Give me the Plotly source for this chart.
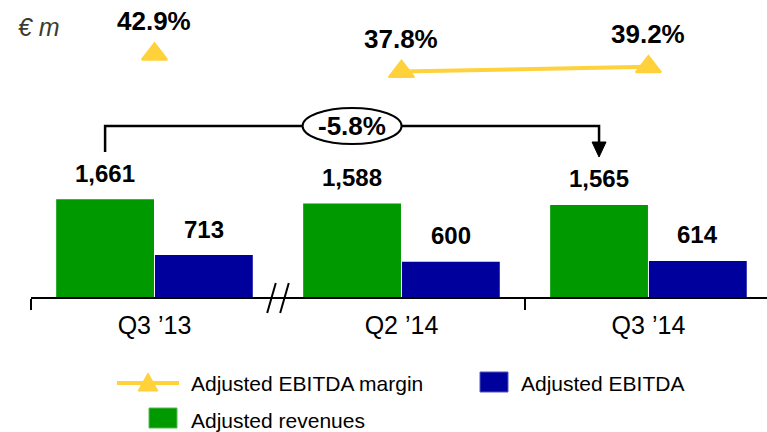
import plotly.graph_objects as go

# ---- data ----
categories = ["Q3 \u201913", "Q2 \u201914", "Q3 \u201914"]
adj_revenues = [1661, 1588, 1565]
adj_ebitda = [713, 600, 614]
ebitda_margin = [42.9, 37.8, 39.2]
change_label = "-5.8%"

GREEN = "#009900"
BLUE = "#00009C"
YELLOW = "#FFD23C"
FONT = "Liberation Sans, Arial, sans-serif"

W, H = 767, 432
L, R, T, B = 31, 0, 0, 135
PW, PH = W - L - R, H - T - B


def pxx(px):
    return (px - L) / PW


def pyy(py):
    return 1 - (py - T) / PH


xs = list(range(len(categories)))

fig = go.Figure()
fig.add_trace(go.Bar(x=xs, y=adj_revenues, name="Adjusted revenues",
                     marker=dict(color=GREEN, line=dict(width=0)), hoverinfo="y"))
fig.add_trace(go.Bar(x=xs, y=adj_ebitda, name="Adjusted EBITDA",
                     marker=dict(color=BLUE, line=dict(width=0)), hoverinfo="y"))
# margin line only after the axis break
fig.add_trace(go.Scatter(x=xs[1:], y=ebitda_margin[1:], yaxis="y2", mode="lines",
                         line=dict(color=YELLOW, width=4), hoverinfo="skip",
                         name="Adjusted EBITDA margin"))
fig.add_trace(go.Scatter(x=xs, y=ebitda_margin, yaxis="y2", mode="markers",
                         marker=dict(symbol="triangle-up", size=22, color=YELLOW,
                                     line=dict(color=YELLOW, width=2)),
                         name="Adjusted EBITDA margin", hoverinfo="y"))

ann = []
# bar value labels
for i, (r, e) in enumerate(zip(adj_revenues, adj_ebitda)):
    ann.append(dict(x=i - 0.2, y=r, xref="x", yref="y", text=f"<b>{r:,}</b>",
                    showarrow=False, yanchor="middle", yshift=26,
                    font=dict(size=24, color="black", family=FONT)))
    ann.append(dict(x=i + 0.2, y=e, xref="x", yref="y", text=f"<b>{e:,}</b>",
                    showarrow=False, yanchor="middle", yshift=26,
                    font=dict(size=24, color="black", family=FONT)))
# margin labels
for i, m in enumerate(ebitda_margin):
    ann.append(dict(x=i, y=m, xref="x", yref="y2", text=f"<b>{m:.1f}%</b>",
                    showarrow=False, yanchor="middle", yshift=33,
                    font=dict(size=26, color="black", family=FONT)))
# unit label
ann.append(dict(x=pxx(16), y=pyy(27), xref="paper", yref="paper", text="<i>\u20ac m</i>",
                showarrow=False, xanchor="left", yanchor="middle",
                font=dict(size=25, color="#3c3c2e", family=FONT)))

shapes = []
# bracket between Q3'13 and Q3'14 revenues
bx0, bx1 = 0 - 0.2, 2 - 0.2
by = pyy(126)
shapes.append(dict(type="path", xref="x", yref="paper",
                   path=f"M {bx0},{pyy(152)} L {bx0},{by} L {bx1},{by} L {bx1},{pyy(143)}",
                   line=dict(color="black", width=2.5)))
ahw = 7 / 247
shapes.append(dict(type="path", xref="x", yref="paper",
                   path=f"M {bx1-ahw},{pyy(142)} L {bx1+ahw},{pyy(142)} L {bx1},{pyy(157)} Z",
                   fillcolor="black", line=dict(color="black", width=1)))
cx = (bx0 + bx1) / 2
ehw = 49.5 / 247
shapes.append(dict(type="circle", xref="x", yref="paper",
                   x0=cx - ehw, x1=cx + ehw, y0=pyy(144), y1=pyy(108),
                   fillcolor="white", line=dict(color="black", width=2)))
ann.append(dict(x=cx, y=pyy(126), xref="x", yref="paper", text=f"<b>{change_label}</b>",
                showarrow=False, yanchor="middle",
                font=dict(size=26, color="black", family=FONT)))

# axis break marks
for off in (-6.5 / 247, 6.5 / 247):
    bx = 0.5 + off
    shapes.append(dict(type="line", xref="x", yref="paper",
                       x0=bx - 4.3 / 247, y0=pyy(313), x1=bx + 4.3 / 247, y1=pyy(283),
                       line=dict(color="black", width=2)))

# legend (manual)
shapes.append(dict(type="line", xref="paper", yref="paper",
                   x0=pxx(117), x1=pxx(179), y0=pyy(383), y1=pyy(383),
                   line=dict(color=YELLOW, width=4)))
shapes.append(dict(type="path", xref="paper", yref="paper",
                   path=f"M {pxx(138)},{pyy(391)} L {pxx(158)},{pyy(391)} L {pxx(148)},{pyy(373)} Z",
                   fillcolor=YELLOW, line=dict(color=YELLOW, width=1)))
shapes.append(dict(type="rect", xref="paper", yref="paper",
                   x0=pxx(480), x1=pxx(508), y0=pyy(392), y1=pyy(372),
                   fillcolor=BLUE, line=dict(color="#5555bb", width=1)))
shapes.append(dict(type="rect", xref="paper", yref="paper",
                   x0=pxx(149), x1=pxx(177), y0=pyy(428), y1=pyy(408),
                   fillcolor=GREEN, line=dict(color="#55bb55", width=1)))
for txt, px, py in [("Adjusted EBITDA margin", 189, 383),
                    ("Adjusted EBITDA", 519, 383),
                    ("Adjusted revenues", 189, 420)]:
    ann.append(dict(x=pxx(px), y=pyy(py), xref="paper", yref="paper", text=txt,
                    showarrow=False, xanchor="left", yanchor="middle",
                    font=dict(size=21, color="black", family=FONT)))

ymax = PH * 17.0
fig.update_layout(
    width=W, height=H,
    margin=dict(l=L, r=R, t=T, b=B, pad=0),
    paper_bgcolor="white", plot_bgcolor="white",
    barmode="group", bargap=0.2, bargroupgap=0.01,
    showlegend=False,
    font=dict(family=FONT, color="black"),
    xaxis=dict(range=[-0.5, 2.48], tickmode="array", tickvals=xs, ticktext=categories,
               ticks="", showline=True, linecolor="black", linewidth=2,
               showgrid=False, zeroline=False, ticklabelstandoff=5,
               tickfont=dict(size=25, color="black", family=FONT),
               minor=dict(tickmode="array", tickvals=[-0.5, 1.5], ticks="outside",
                          ticklen=11, tickwidth=1.5, tickcolor="black", showgrid=False)),
    yaxis=dict(range=[0, ymax], visible=False, showgrid=False, zeroline=False),
    yaxis2=dict(range=[-28.5, 58.84], overlaying="y", visible=False,
                showgrid=False, zeroline=False),
    annotations=ann,
    shapes=shapes,
)

fig.write_html(
    "out.html",
    config={"displayModeBar": False},
    post_script="document.body.style.margin='0';document.body.style.overflow='hidden';",
)
